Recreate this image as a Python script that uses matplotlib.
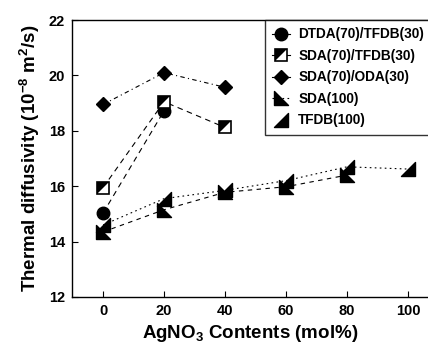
import matplotlib
matplotlib.use("Agg")
import matplotlib.pyplot as plt
from matplotlib.path import Path
from matplotlib.lines import Line2D
from matplotlib.legend_handler import HandlerTuple

plt.rcParams['font.family'] = ['Liberation Sans', 'DejaVu Sans']
plt.rcParams['font.weight'] = 'bold'
plt.rcParams['mathtext.fontset'] = 'custom'
plt.rcParams['mathtext.rm'] = 'Liberation Sans:bold'
plt.rcParams['mathtext.it'] = 'Liberation Sans:bold'
plt.rcParams['mathtext.bf'] = 'Liberation Sans:bold'

x_dtda = [0, 20]
y_dtda = [15.03, 18.72]
x_sdatfdb = [0, 20, 40]
y_sdatfdb = [15.95, 19.05, 18.12]
x_sdaoda = [0, 20, 40]
y_sdaoda = [18.95, 20.1, 19.57]
x_sda = [0, 20, 40, 60, 80]
y_sda = [14.35, 15.15, 15.78, 15.98, 16.4]
x_tfdb = [0, 20, 40, 60, 80, 100]
y_tfdb = [14.6, 15.55, 15.85, 16.2, 16.7, 16.62]

labels = ['DTDA(70)/TFDB(30)', 'SDA(70)/TFDB(30)', 'SDA(70)/ODA(30)', 'SDA(100)', 'TFDB(100)']
xticks = [0, 20, 40, 60, 80, 100]
yticks = [12, 14, 16, 18, 20, 22]

tri_sda = Path([(-1, 1), (-1, -1), (1, -1), (-1, 1)], [1, 2, 2, 79])
tri_tfdb = Path([(-1, -1), (1, -1), (1, 1), (-1, -1)], [1, 2, 2, 79])
tri_half = Path([(-1, -1), (-1, 1), (1, 1), (-1, -1)], [1, 2, 2, 79])

fig = plt.figure(figsize=(4.28, 3.5), dpi=100)
ax = fig.add_axes([72/428, 53/350, 356/428, 277/350])

ax.plot(x_dtda, y_dtda, color='black', ls=(0, (5, 4)), lw=0.8, marker='o', ms=9,
        mfc='black', mec='black')
ax.plot(x_sdatfdb, y_sdatfdb, color='black', ls=(0, (5, 4)), lw=0.8, marker='s', ms=8.5,
        mfc='white', mec='black', mew=1.2)
ax.plot(x_sdatfdb, y_sdatfdb, ls='none', marker=tri_half, ms=8, mfc='black', mec='black', mew=0)
ax.plot(x_sdaoda, y_sdaoda, color='black', ls=(0, (4, 3, 1, 3)), lw=0.8, marker='D', ms=7.5,
        mfc='black', mec='black')
ax.plot(x_sda, y_sda, color='black', ls=(0, (4, 4)), lw=0.8, marker=tri_sda, ms=10,
        mfc='black', mec='black')
ax.plot(x_tfdb, y_tfdb, color='black', ls=(0, (1.5, 3)), lw=0.8, marker=tri_tfdb, ms=10,
        mfc='black', mec='black')

h0 = Line2D([], [], color='black', ls='-', lw=0.8, marker='o', ms=9, mfc='black')
h1a = Line2D([], [], color='black', ls='-', lw=0.8, marker='s', ms=8.5, mfc='white', mec='black', mew=1.2)
h1b = Line2D([], [], ls='none', marker=tri_half, ms=8, mfc='black', mec='black', mew=0)
h2 = Line2D([], [], color='black', ls='-', lw=0.8, marker='D', ms=7.5, mfc='black')
h3 = Line2D([], [], color='black', ls=(0, (1.5, 3)), lw=0.8, marker=tri_sda, ms=10, mfc='black')
h4 = Line2D([], [], color='none', ls='none', marker=tri_tfdb, ms=10, mfc='black', mec='black')
leg = fig.legend([h0, (h1a, h1b), h2, h3, h4], labels,
                 handler_map={tuple: HandlerTuple(ndivide=1, pad=0)},
                 loc='upper left', bbox_to_anchor=(265/428, 1 - 20/350),
                 frameon=True, fancybox=False, edgecolor='black', fontsize=9.8,
                 handlelength=1.3, handletextpad=0.6, labelspacing=0.55,
                 borderpad=0.55, borderaxespad=0)
leg.get_frame().set_linewidth(1.0)

ax.set_xlim(-10.2, 106.6)
ax.set_ylim(12, 22)
ax.set_xticks(xticks)
ax.set_yticks(yticks)
ax.tick_params(direction='in', length=4, width=0.8, labelsize=10.5, pad=5)
for lab in ax.get_xticklabels() + ax.get_yticklabels():
    lab.set_fontweight('bold')
ax.spines['right'].set_visible(False)
for s in ['left', 'bottom', 'top']:
    ax.spines[s].set_linewidth(1.0)

ax.set_ylabel('Thermal diffusivity (10$^{-8}$ m$^{2}$/s)', fontsize=13.5, fontweight='bold', labelpad=5)
ax.set_xlabel('AgNO$_{3}$ Contents (mol%)', fontsize=13.5, fontweight='bold', labelpad=4)

fig.savefig('out.png', dpi=100)
